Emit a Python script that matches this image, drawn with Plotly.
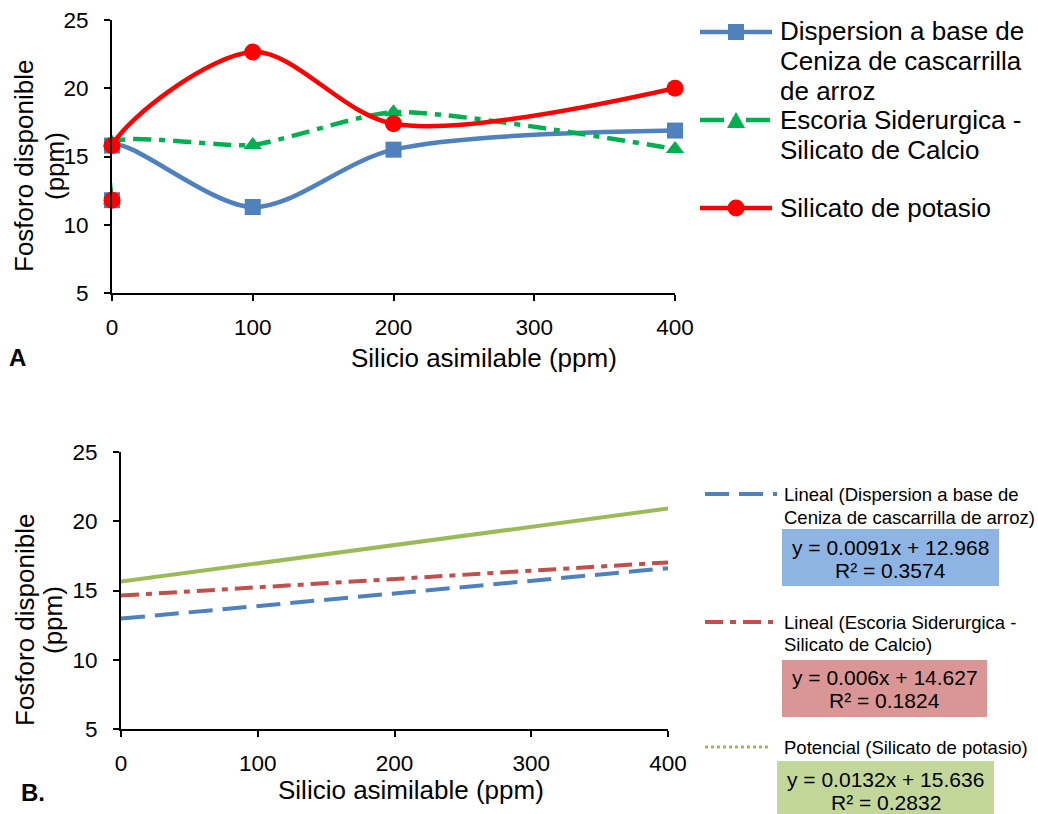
import plotly.graph_objects as go

W, H = 1038, 814

# ---------------- data ----------------
silicio = [0, 0, 100, 200, 400]
disp_ceniza = [11.8, 15.8, 11.3, 15.5, 16.9]
escoria = [11.8, 16.0, 15.85, 18.25, 15.55]
silicato_k = [11.8, 15.8, 22.65, 17.4, 20.0]

trend_x = [0, 400]
trend_ceniza = [12.97, 16.61]
trend_escoria = [14.63, 17.03]
trend_potasio = [15.64, 20.92]

xticks = [0, 100, 200, 300, 400]
yticks = [5, 10, 15, 20, 25]

legend_top = ["Dispersion a base de<br>Ceniza de cascarrilla<br>de arroz",
              "Escoria Siderurgica -<br>Silicato de Calcio",
              "Silicato de potasio"]
legend_bot = ["Lineal (Dispersion a base de<br>Ceniza de cascarrilla de arroz)",
              "Lineal (Escoria Siderurgica -<br>Silicato de Calcio)",
              "Potencial (Silicato de potasio)"]
equations = [("y = 0.0091x + 12.968", "R² = 0.3574"),
             ("y = 0.006x + 14.627", "R² = 0.1824"),
             ("y = 0.0132x + 15.636", "R² = 0.2832")]

BLUE = "#4F81BD"
GREEN = "#00B050"
RED = "#FF0000"
TBLUE = "#4F81BD"
TRED = "#C0504D"
TGREEN = "#9BBB59"
FONT = "Arial, Liberation Sans, sans-serif"


def px(x):
    return x / W


def py(y):
    return 1 - y / H


fig = go.Figure()

# ---------------- chart A ----------------
fig.add_trace(go.Scatter(x=silicio, y=disp_ceniza, mode="lines+markers",
                         line=dict(color=BLUE, width=4.5, shape="spline", smoothing=0.9),
                         marker=dict(symbol="square", size=16, color=BLUE),
                         cliponaxis=False, showlegend=False, xaxis="x", yaxis="y"))
fig.add_trace(go.Scatter(x=silicio, y=escoria, mode="lines+markers",
                         line=dict(color=GREEN, width=4.5, shape="spline", smoothing=0.6,
                                   dash="18px,8px,6px,8px"),
                         marker=dict(symbol="triangle-up", size=16, color=GREEN),
                         cliponaxis=False, showlegend=False, xaxis="x", yaxis="y"))
fig.add_trace(go.Scatter(x=silicio, y=silicato_k, mode="lines+markers",
                         line=dict(color=RED, width=4.5, shape="spline", smoothing=0.9),
                         marker=dict(symbol="circle", size=17, color=RED),
                         cliponaxis=False, showlegend=False, xaxis="x", yaxis="y"))

# ---------------- chart B ----------------
fig.add_trace(go.Scatter(x=trend_x, y=trend_ceniza, mode="lines",
                         line=dict(color=TBLUE, width=4, dash="24px,10px"),
                         showlegend=False, xaxis="x2", yaxis="y2"))
fig.add_trace(go.Scatter(x=trend_x, y=trend_escoria, mode="lines",
                         line=dict(color=TRED, width=4, dash="18px,7px,6px,7px"),
                         showlegend=False, xaxis="x2", yaxis="y2"))
fig.add_trace(go.Scatter(x=trend_x, y=trend_potasio, mode="lines",
                         line=dict(color=TGREEN, width=4),
                         showlegend=False, xaxis="x2", yaxis="y2"))

axis_common = dict(showline=True, linecolor="black", linewidth=2, ticks="outside",
                   ticklen=6, tickwidth=2, tickcolor="black", showgrid=False,
                   zeroline=False, automargin=False,
                   tickfont=dict(size=22.5, color="black", family=FONT))

fig.update_layout(
    width=W, height=H, margin=dict(l=0, r=0, t=0, b=0, autoexpand=False),
    paper_bgcolor="white", plot_bgcolor="white",
    font=dict(family=FONT, color="black"),
    xaxis=dict(domain=[px(112), px(675)], range=[0, 400], tickvals=xticks,
               anchor="y", ticklabelstandoff=7, **axis_common),
    yaxis=dict(domain=[py(293), py(20)], range=[5, 25], tickvals=yticks,
               anchor="x", ticklabelstandoff=11, **axis_common),
    xaxis2=dict(domain=[px(121), px(668)], range=[0, 400], tickvals=xticks,
                anchor="y2", ticklabelstandoff=7, **axis_common),
    yaxis2=dict(domain=[py(729), py(452)], range=[5, 25], tickvals=yticks,
                anchor="x2", ticklabelstandoff=11, **axis_common),
)

shapes = []
ann = []


def text(x, y, s, size, xanchor="center", angle=0, bold=False):
    ann.append(dict(x=px(x), y=py(y), xref="paper", yref="paper", text=("<b>%s</b>" % s) if bold else s,
                    showarrow=False, xanchor=xanchor, yanchor="middle", textangle=angle,
                    font=dict(size=size, color="black", family=FONT)))


# axis titles
text(484, 358, "Silicio asimilable (ppm)", 26)
text(24, 166, "Fosforo disponible", 26, angle=-90)
text(55, 166, "(ppm)", 26, angle=-90)
text(18, 357, "A", 24, bold=True)

text(411, 790, "Silicio asimilable (ppm)", 26)
text(25, 620, "Fosforo disponible", 26, angle=-90)
text(53, 620, "(ppm)", 26, angle=-90)
text(33, 792, "B.", 24, bold=True)


# ---------------- legend A (manual) ----------------
def hline(x0, x1, y, color, width, dash="solid"):
    shapes.append(dict(type="line", xref="paper", yref="paper", x0=px(x0), x1=px(x1),
                       y0=py(y), y1=py(y), line=dict(color=color, width=width, dash=dash)))


# blue
hline(700, 772, 32, BLUE, 4.5)
shapes.append(dict(type="rect", xref="paper", yref="paper", x0=px(728), x1=px(744),
                   y0=py(40), y1=py(24), fillcolor=BLUE, line=dict(width=0)))
for i, s in enumerate(legend_top[0].split("<br>")):
    text(778, 31 + i * 30, s, 26, xanchor="left")
# green
hline(700, 772, 120, GREEN, 4.5, "24px,8px,6px,8px")
shapes.append(dict(type="path", xref="paper", yref="paper",
                   path="M %f,%f L %f,%f L %f,%f Z" % (px(727), py(128), px(745), py(128), px(736), py(112)),
                   fillcolor=GREEN, line=dict(width=0)))
for i, s in enumerate(legend_top[1].split("<br>")):
    text(778, 120 + i * 30, s, 26, xanchor="left")
# red
hline(700, 772, 208, RED, 4.5)
shapes.append(dict(type="circle", xref="paper", yref="paper", x0=px(727.5), x1=px(744.5),
                   y0=py(216.5), y1=py(199.5), fillcolor=RED, line=dict(width=0)))
text(778, 208, legend_top[2], 26, xanchor="left")

# ---------------- legend B (manual) ----------------
hline(705, 777, 494, TBLUE, 4, "24px,10px")
for i, s in enumerate(legend_bot[0].split("<br>")):
    text(782, 494 + i * 23, s, 18.5, xanchor="left")
hline(705, 773, 622, TRED, 4, "18px,7px,6px,7px")
for i, s in enumerate(legend_bot[1].split("<br>")):
    text(782, 622 + i * 22, s, 18.5, xanchor="left")
hline(705, 770, 747, TGREEN, 3, "dot")
text(782, 747, legend_bot[2], 18.5, xanchor="left")

boxes = [(782, 999, 529, 586, "#8DB4E2", 547, 570),
         (782, 987, 660, 717, "#DA9694", 677, 700),
         (777, 994, 761, 818, "#C4D79B", 779, 802)]
for (x0, x1, y0, y1, col, l1, l2), (e1, e2) in zip(boxes, equations):
    shapes.append(dict(type="rect", xref="paper", yref="paper", x0=px(x0), x1=px(x1),
                       y0=py(y1), y1=py(y0), fillcolor=col, line=dict(width=0), layer="below"))
    text((x0 + x1) / 2, l1, e1, 21)
    text((x0 + x1) / 2, l2, e2, 21)

fig.update_layout(shapes=shapes, annotations=ann)
fig.write_html("out.html", config={"displayModeBar": False},
               post_script="document.body.style.margin='0';document.body.style.overflow='hidden';")
